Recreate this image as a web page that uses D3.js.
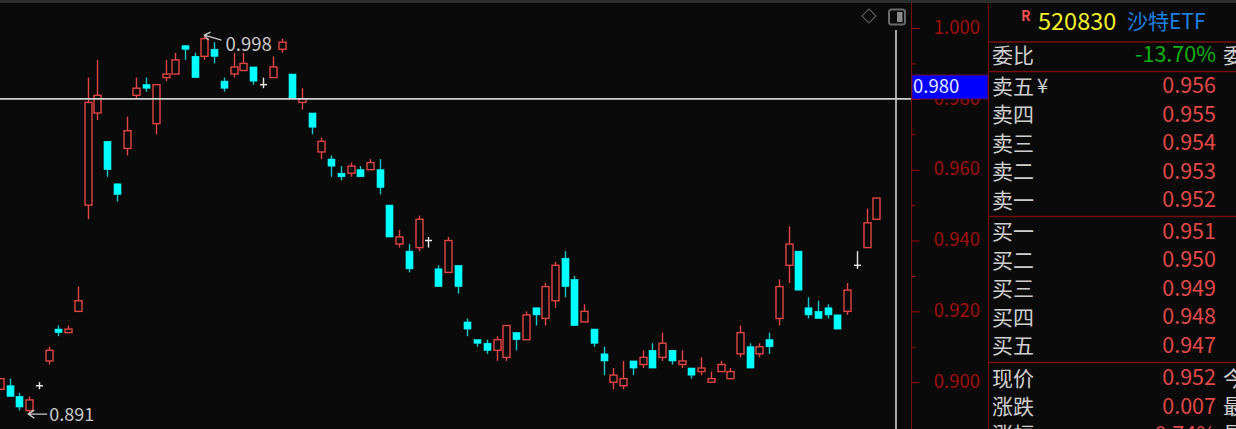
<!DOCTYPE html>
<html>
<head>
<meta charset="utf-8">
<style>
  html, body { margin: 0; padding: 0; background: #0a0a0a; overflow: hidden; }
  svg { display: block; }
  text { font-family: "Noto Sans CJK SC", "Noto Sans", sans-serif; }
</style>
<script src="https://cdn.jsdelivr.net/npm/d3@7"></script>
</head>
<body>
<div id="canvas"></div>
<script>
// candles, prices
const opens = [0.898,0.899,0.896,0.892,0.899,0.906,0.915,0.914,0.920,0.950,0.976,0.968,0.956,0.966,0.981,0.984,0.973,0.986,0.987,0.995,0.992,0.992,0.994,0.985,0.987,0.988,0.989,0.984,0.986,0.994,0.987,0.979,0.976,0.965,0.963,0.959,0.959,0.960,0.960,0.960,0.950,0.939,0.937,0.938,0.940,0.932,0.931,0.933,0.917,0.912,0.911,0.909,0.907,0.914,0.912,0.921,0.918,0.923,0.935,0.929,0.917,0.915,0.908,0.900,0.899,0.906,0.905,0.909,0.907,0.909,0.905,0.904,0.903,0.900,0.903,0.901,0.908,0.910,0.908,0.912,0.918,0.933,0.937,0.921,0.920,0.921,0.919,0.920,0.933,0.938,0.946];
const closes = [0.901,0.896,0.893,0.895,0.899,0.909,0.914,0.915,0.923,0.979,0.981,0.960,0.953,0.971,0.983,0.983,0.984,0.987,0.991,0.994,0.986,0.997,0.992,0.983,0.989,0.990,0.985,0.984,0.989,0.996,0.980,0.980,0.972,0.968,0.961,0.958,0.961,0.958,0.962,0.955,0.941,0.941,0.932,0.946,0.940,0.927,0.940,0.927,0.915,0.911,0.909,0.912,0.916,0.912,0.919,0.919,0.927,0.933,0.927,0.916,0.920,0.911,0.906,0.902,0.901,0.904,0.907,0.904,0.911,0.906,0.906,0.902,0.904,0.901,0.905,0.903,0.914,0.904,0.910,0.910,0.927,0.939,0.926,0.919,0.918,0.919,0.915,0.926,0.933,0.945,0.952];
const highs = [0.901,0.901,0.897,0.896,0.900,0.910,0.916,0.916,0.927,0.986,0.991,0.968,0.956,0.975,0.986,0.986,0.984,0.991,0.993,0.995,0.993,0.998,0.996,0.986,0.993,0.993,0.989,0.986,0.992,0.997,0.987,0.983,0.976,0.969,0.964,0.961,0.962,0.961,0.963,0.963,0.950,0.943,0.939,0.947,0.941,0.933,0.941,0.933,0.918,0.912,0.912,0.913,0.916,0.914,0.920,0.921,0.928,0.934,0.937,0.930,0.922,0.915,0.910,0.904,0.906,0.906,0.909,0.911,0.914,0.909,0.909,0.904,0.907,0.903,0.906,0.904,0.916,0.911,0.911,0.914,0.929,0.944,0.937,0.924,0.923,0.922,0.919,0.928,0.937,0.949,0.952];
const lows = [0.898,0.896,0.892,0.891,0.898,0.905,0.913,0.914,0.920,0.946,0.974,0.958,0.951,0.964,0.980,0.982,0.970,0.985,0.987,0.991,0.986,0.991,0.990,0.982,0.986,0.988,0.984,0.983,0.986,0.993,0.980,0.977,0.970,0.963,0.958,0.957,0.958,0.958,0.960,0.953,0.941,0.938,0.931,0.937,0.938,0.927,0.931,0.925,0.913,0.910,0.908,0.906,0.906,0.909,0.912,0.916,0.916,0.921,0.924,0.916,0.917,0.910,0.902,0.898,0.898,0.902,0.904,0.904,0.906,0.905,0.904,0.901,0.902,0.900,0.903,0.901,0.907,0.904,0.907,0.908,0.916,0.928,0.926,0.918,0.918,0.918,0.915,0.919,0.932,0.938,0.946];

const majorTicks = [1.0, 0.98, 0.96, 0.94, 0.92, 0.9];
const minorTicks = [0.99, 0.97, 0.95, 0.93, 0.91];
const crossPrice = 0.98;
const highMark = 0.998;
const lowMark = 0.891;

const sellNames = ["卖五", "卖四", "卖三", "卖二", "卖一"];
const sellPrices = ["0.956", "0.955", "0.954", "0.953", "0.952"];
const buyNames = ["买一", "买二", "买三", "买四", "买五"];
const buyPrices = ["0.951", "0.950", "0.949", "0.948", "0.947"];
const quoteNames = ["现价", "涨跌", "涨幅"];
const quoteValues = ["0.952", "0.007", "0.74%"];
const quoteSide = ["今", "最", "最"];

const width = 1236;
const height = 429;
const bg = "#0a0a0a";
const red = "#e04444";
const cyan = "#00ffff";
const dimRed = "#a01010";
const lineRed = "#761010";

const svg = d3.select("#canvas").append("svg").attr("width", width).attr("height", height);
svg.append("rect").attr("width", width).attr("height", height).attr("fill", bg);
svg.append("rect").attr("width", width).attr("height", 3).attr("fill", "#2e2e2e");

const x = d3.scaleLinear().domain([0, 90]).range([0, 876.3]);
const y = d3.scaleLinear().domain([0.9, 1.0]).range([382.2, 28]);
const px = (v) => Math.round(x(v)) + 0.5;

const candles = d3.range(opens.length).map((i) => ({
  i, open: opens[i], close: closes[i], high: highs[i], low: lows[i],
}));

const colour = (d) => (d.open === d.close ? "#e8e8e8" : d.close > d.open ? red : cyan);

const g = svg.append("g").attr("class", "candles");

g.selectAll("line.wick")
  .data(candles)
  .enter()
  .append("line")
  .attr("class", "wick")
  .attr("x1", (d) => px(d.i))
  .attr("x2", (d) => px(d.i))
  .attr("y1", (d) => y(d.high))
  .attr("y2", (d) => y(d.low))
  .attr("stroke", (d) => (colour(d) === cyan ? "#17c4c8" : colour(d)))
  .attr("stroke-width", 1.4);

g.selectAll("rect.body")
  .data(candles.filter((d) => d.open !== d.close))
  .enter()
  .append("rect")
  .attr("class", "body")
  .attr("x", (d) => px(d.i) - 3.5)
  .attr("width", 7)
  .attr("y", (d) => y(Math.max(d.open, d.close)))
  .attr("height", (d) => Math.abs(y(d.open) - y(d.close)))
  .attr("fill", (d) => (d.close > d.open ? bg : cyan))
  .attr("stroke", colour)
  .attr("stroke-width", (d) => (d.close > d.open ? 1.4 : 0.6));

// doji candles only get a short cross bar
g.selectAll("line.doji")
  .data(candles.filter((d) => d.open === d.close))
  .enter()
  .append("line")
  .attr("class", "doji")
  .attr("x1", (d) => px(d.i) - 3.5)
  .attr("x2", (d) => px(d.i) + 3.5)
  .attr("y1", (d) => y(d.close))
  .attr("y2", (d) => y(d.close))
  .attr("stroke", "#e8e8e8")
  .attr("stroke-width", 1.5);

// high / low notes
const noteColour = "#c9c9c9";
const highX = x(21);
const lowX = x(3);
svg.append("path")
  .attr("d", `M${highX + 17},${y(highMark) + 5} L${highX},${y(highMark)} M${highX + 6},${y(highMark) - 3} L${highX},${y(highMark)} L${highX + 4},${y(highMark) + 5}`)
  .attr("fill", "none").attr("stroke", noteColour).attr("stroke-width", 1.4);
svg.append("text").attr("x", highX + 21).attr("y", y(highMark) + 16).attr("fill", noteColour)
  .attr("font-size", 18.5).text(d3.format(".3f")(highMark));
svg.append("path")
  .attr("d", `M${lowX + 18},${y(lowMark)} L${lowX - 1},${y(lowMark)} M${lowX + 5},${y(lowMark) - 4} L${lowX - 1},${y(lowMark)} L${lowX + 5},${y(lowMark) + 4}`)
  .attr("fill", "none").attr("stroke", noteColour).attr("stroke-width", 1.4);
svg.append("text").attr("x", lowX + 20).attr("y", y(lowMark) + 6.5).attr("fill", noteColour)
  .attr("font-size", 18).text(d3.format(".3f")(lowMark));

// price axis
const axisG = svg.append("g").attr("transform", "translate(911.5,0)")
  .call(d3.axisRight(y).tickValues(majorTicks).tickFormat(d3.format(".3f")).tickSize(8).tickSizeOuter(0));
axisG.select(".domain").remove();
axisG.selectAll("line").attr("stroke", dimRed);
axisG.selectAll("text").attr("fill", dimRed).attr("font-size", 18.5)
  .attr("font-family", '"Noto Sans CJK SC"').attr("x", 68.5).attr("y", -1).attr("text-anchor", "end").attr("dy", "0.34em");
const minorG = svg.append("g").attr("transform", "translate(911.5,0)")
  .call(d3.axisRight(y).tickValues(minorTicks).tickFormat("").tickSize(4).tickSizeOuter(0));
minorG.select(".domain").remove();
minorG.selectAll("line").attr("stroke", dimRed);
svg.append("line").attr("x1", 911.5).attr("x2", 911.5).attr("y1", 3).attr("y2", height).attr("stroke", lineRed);

// crosshair
svg.append("line").attr("x1", 0).attr("x2", 911).attr("y1", y(crossPrice)).attr("y2", y(crossPrice))
  .attr("stroke", "#cfcfcf").attr("stroke-width", 1.6);
svg.append("line").attr("x1", 896).attr("x2", 896).attr("y1", 30).attr("y2", height)
  .attr("stroke", "#cfcfcf").attr("stroke-width", 1.6);
svg.append("rect").attr("x", 912).attr("y", 75).attr("width", 76).attr("height", 24)
  .attr("fill", "#0000ff").attr("stroke", "#6e0a3c");
svg.append("text").attr("x", 913).attr("y", 92.5).attr("fill", "#e8e8ff").attr("font-size", 18.5)
  .text(d3.format(".3f")(crossPrice));

// corner icons
svg.append("path").attr("d", "M869,9 L876,16 L869,23 L862,16 Z").attr("fill", "none").attr("stroke", "#5a5a5a").attr("stroke-width", 1.2);
svg.append("rect").attr("x", 889).attr("y", 9.5).attr("width", 16).attr("height", 15).attr("rx", 2.5)
  .attr("fill", "none").attr("stroke", "#6a6a6a").attr("stroke-width", 2);
svg.append("rect").attr("x", 897).attr("y", 12).attr("width", 5.5).attr("height", 10).attr("fill", "#8a8a8a");

// quote panel
const panelLines = [42, 71.5, 216.5, 362.5];
svg.append("line").attr("x1", 988.5).attr("x2", 988.5).attr("y1", 3).attr("y2", height).attr("stroke", lineRed);
svg.selectAll("line.panel")
  .data(panelLines)
  .enter()
  .append("line")
  .attr("class", "panel")
  .attr("x1", 988).attr("x2", width)
  .attr("y1", (d) => d).attr("y2", (d) => d)
  .attr("stroke", lineRed).attr("stroke-width", 1.4);

const grey = "#cfcfcf";
const priceRed = "#e04848";
const label = (tx, ty, txt, fill, size, anchor) =>
  svg.append("text").attr("x", tx).attr("y", ty).attr("fill", fill).attr("font-size", size)
    .attr("text-anchor", anchor || "start").text(txt);

label(1021, 21, "R", "#f05050", 14).attr("font-weight", 700);
label(1038, 30, "520830", "#f4f02c", 23.5);
label(1127, 29, "沙特ETF", "#1d7fe0", 21);
label(992, 63, "委比", grey, 21);
label(1216, 62, "-13.70%", "#12b012", 21.5, "end");
label(1223, 63, "委", grey, 21);
label(1037, 93, "¥", grey, 20);

const rowYs = [93.5, 122, 150.5, 179, 207.5, 239, 267.5, 296, 324.5, 353, 385.5, 414, 442];
const names = sellNames.concat(buyNames, quoteNames);
const prices = sellPrices.concat(buyPrices, quoteValues);
names.forEach((name, i) => {
  label(992, rowYs[i], name, grey, 21);
  label(1216, rowYs[i] - 0.5, prices[i], priceRed, 21.5, "end");
});
quoteSide.forEach((t, i) => label(1223, rowYs[10 + i], t, grey, 21));
</script>
</body>
</html>
